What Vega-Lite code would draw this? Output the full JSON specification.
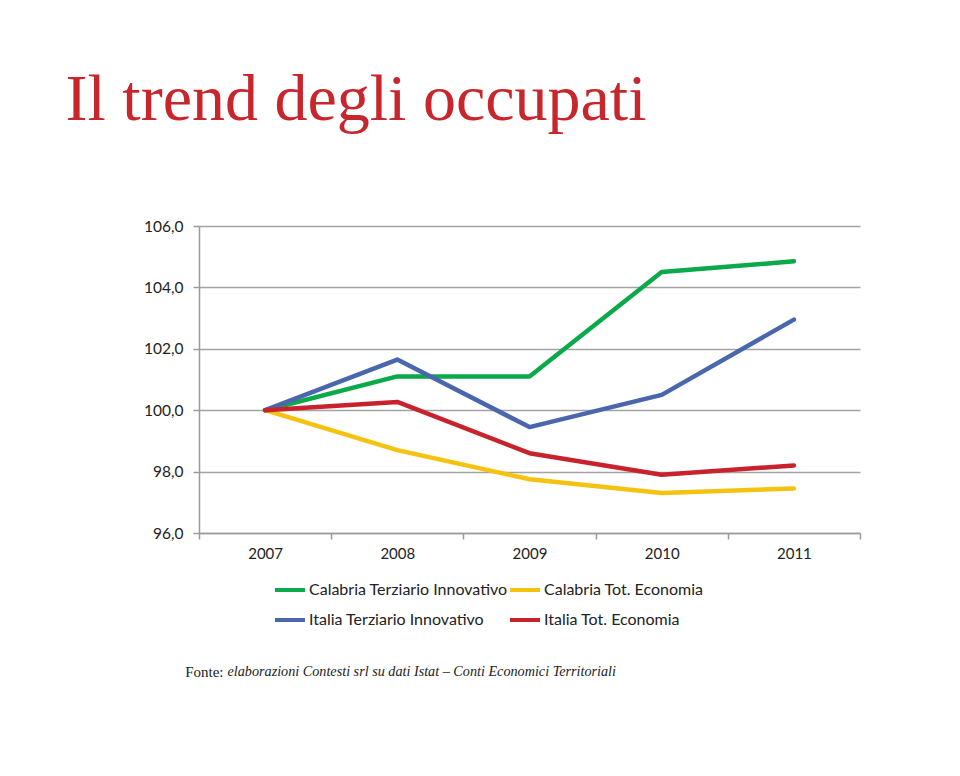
{
  "$schema": "https://vega.github.io/schema/vega-lite/v6.json",
  "background": "white",
  "padding": {"left": 65, "top": 67, "right": 10, "bottom": 10},
  "title": {
    "text": "Il trend degli occupati",
    "anchor": "start",
    "dx": -78,
    "offset": 85,
    "font": "Liberation Serif",
    "fontSize": 66,
    "fontWeight": "normal",
    "color": "#c8262d"
  },
  "data": {
    "values": [
      {"serie": "Calabria Terziario Innovativo", "anno": "2007", "valore": 100.0},
      {"serie": "Calabria Terziario Innovativo", "anno": "2008", "valore": 101.1},
      {"serie": "Calabria Terziario Innovativo", "anno": "2009", "valore": 101.1},
      {"serie": "Calabria Terziario Innovativo", "anno": "2010", "valore": 104.5},
      {"serie": "Calabria Terziario Innovativo", "anno": "2011", "valore": 104.85},
      {"serie": "Calabria Tot. Economia", "anno": "2007", "valore": 100.0},
      {"serie": "Calabria Tot. Economia", "anno": "2008", "valore": 98.7},
      {"serie": "Calabria Tot. Economia", "anno": "2009", "valore": 97.75},
      {"serie": "Calabria Tot. Economia", "anno": "2010", "valore": 97.3},
      {"serie": "Calabria Tot. Economia", "anno": "2011", "valore": 97.45},
      {"serie": "Italia Terziario Innovativo", "anno": "2007", "valore": 100.0},
      {"serie": "Italia Terziario Innovativo", "anno": "2008", "valore": 101.65},
      {"serie": "Italia Terziario Innovativo", "anno": "2009", "valore": 99.45},
      {"serie": "Italia Terziario Innovativo", "anno": "2010", "valore": 100.5},
      {"serie": "Italia Terziario Innovativo", "anno": "2011", "valore": 102.95},
      {"serie": "Italia Tot. Economia", "anno": "2007", "valore": 100.0},
      {"serie": "Italia Tot. Economia", "anno": "2008", "valore": 100.27},
      {"serie": "Italia Tot. Economia", "anno": "2009", "valore": 98.6},
      {"serie": "Italia Tot. Economia", "anno": "2010", "valore": 97.9},
      {"serie": "Italia Tot. Economia", "anno": "2011", "valore": 98.2}
    ]
  },
  "resolve": {"legend": {"color": "independent"}},
  "spacing": 34,
  "vconcat": [
    {
      "width": 661,
      "height": 307,
      "mark": {"type": "line", "strokeWidth": 4.5, "strokeCap": "round", "strokeJoin": "round"},
      "encoding": {
        "x": {
          "field": "anno",
          "type": "ordinal",
          "scale": {"paddingInner": 0, "paddingOuter": 0},
          "axis": {
            "title": null,
            "labelAngle": 0,
            "tickBand": "extent",
            "tickSize": 6,
            "tickColor": "#9a9a9a",
            "domainColor": "#9a9a9a",
            "domainWidth": 1.5,
            "tickWidth": 1.5,
            "labelPadding": 7,
            "labelFont": "Lato",
            "labelFontSize": 15,
            "labelColor": "#222222",
            "grid": false
          }
        },
        "y": {
          "field": "valore",
          "type": "quantitative",
          "scale": {"domain": [96, 106], "nice": false, "zero": false},
          "axis": {
            "title": null,
            "values": [96, 98, 100, 102, 104, 106],
            "labelExpr": "replace(format(datum.value, '.1f'), '.', ',')",
            "tickSize": 6,
            "tickColor": "#9a9a9a",
            "tickWidth": 1.5,
            "domainColor": "#9a9a9a",
            "domainWidth": 1.5,
            "gridColor": "#a3a3a3",
            "gridWidth": 1.5,
            "gridOpacity": 1,
            "labelPadding": 10,
            "labelFont": "Lato",
            "labelFontSize": 15.5,
            "labelColor": "#222222"
          }
        },
        "color": {
          "field": "serie",
          "type": "nominal",
          "scale": {
            "domain": ["Calabria Terziario Innovativo", "Italia Terziario Innovativo", "Calabria Tot. Economia", "Italia Tot. Economia"],
            "range": ["#0aa94a", "#4a66ac", "#f5c20f", "#c8232c"]
          },
          "legend": {
            "title": null,
            "orient": "none",
            "legendX": 74,
            "legendY": 347,
            "columns": 2,
            "columnPadding": -17,
            "rowPadding": 5,
            "padding": 0,
            "symbolType": "stroke",
            "symbolSize": 900,
            "symbolStrokeWidth": 4,
            "labelOffset": 2,
            "labelFont": "Lato",
            "labelFontSize": 16,
            "labelColor": "#222222",
            "labelLimit": 400
          }
        }
      }
    },
    {
      "width": 53,
      "height": 20,
      "view": {"stroke": null},
      "data": {"values": [{"fonte": "Fonte:", "testo": "elaborazioni Contesti srl su dati Istat – Conti Economici Territoriali"}]},
      "layer": [
        {
          "mark": {"type": "text", "align": "right", "dx": -2, "font": "Liberation Serif", "fontSize": 15, "color": "#222222"},
          "encoding": {"text": {"field": "fonte"}}
        },
        {
          "mark": {"type": "text", "align": "left", "dx": 2, "font": "Liberation Serif", "fontStyle": "italic", "fontSize": 14.2, "color": "#222222"},
          "encoding": {"text": {"field": "testo"}}
        }
      ]
    }
  ],
  "config": {"view": {"stroke": null}}
}
